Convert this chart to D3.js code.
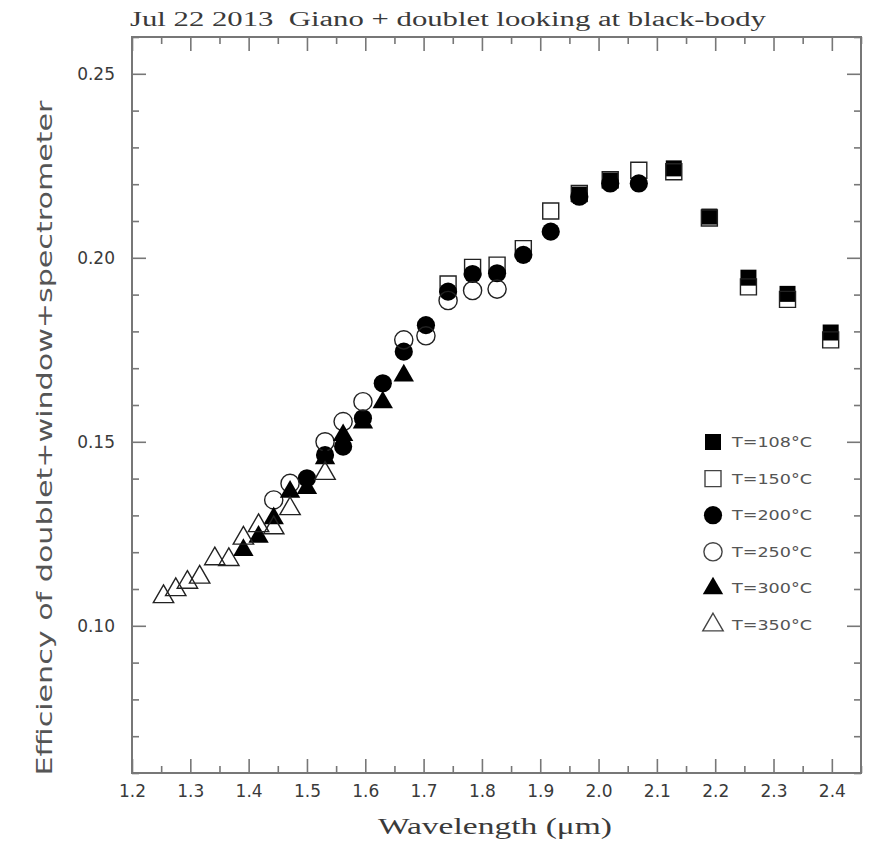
<!DOCTYPE html>
<html>
<head>
<meta charset="utf-8">
<script src="https://cdn.jsdelivr.net/npm/d3@7"></script>
<style>
  body { margin: 0; background: #fff; }
  svg { display: block; }
</style>
</head>
<body>
<div id="chart"></div>
<script>
// echelle order centres (um)
const wavelengths = [1.254, 1.275, 1.295, 1.316, 1.342, 1.366, 1.391, 1.417, 1.443, 1.471,
    1.500, 1.531, 1.562, 1.596, 1.630, 1.666, 1.704, 1.742, 1.784, 1.826,
    1.871, 1.918, 1.967, 2.020, 2.069, 2.129, 2.190, 2.257, 2.324, 2.398];

const _ = null;
const eff108 = [_, _, _, _, _, _, _, _, _, _,
    _, _, _, _, _, _, _, _, _, _,
    _, _, 0.2172, 0.2210, _, 0.2243, 0.2112, 0.1946, 0.1902, 0.1797];
const eff150 = [_, _, _, _, _, _, _, _, _, _,
    _, _, _, _, _, _, _, 0.1929, 0.1974, 0.1980,
    0.2025, 0.2127, 0.2175, 0.2212, 0.2238, 0.2234, 0.2108, 0.1921, 0.1887, 0.1777];
const eff200 = [_, _, _, _, _, _, _, _, _, _,
    0.1401, 0.1464, 0.1487, 0.1564, 0.1659, 0.1745, 0.1817, 0.1908, 0.1956, 0.1958,
    0.2008, 0.2071, 0.2166, 0.2202, 0.2202, _, _, _, _, _];
const eff250 = [_, _, _, _, _, _, _, _, 0.1342, 0.1387,
    _, 0.1500, 0.1555, 0.1609, _, 0.1777, 0.1788, 0.1884, 0.1911, 0.1915,
    _, _, _, _, _, _, _, _, _, _];
const eff300 = [_, _, _, _, _, _, 0.1206, 0.1242, 0.1292, 0.1364,
    0.1374, 0.1455, 0.1518, 0.1552, 0.1607, 0.1680, _, _, _, _,
    _, _, _, _, _, _, _, _, _, _];
const eff350 = [0.1079, 0.1098, 0.1118, 0.1132, 0.1182, 0.1180, 0.1238, 0.1272, 0.1266, 0.1318,
    _, 0.1414, _, _, _, _, _, _, _, _,
    _, _, _, _, _, _, _, _, _, _];

const seriesLabels = ['T=108°C', 'T=150°C', 'T=200°C', 'T=250°C', 'T=300°C', 'T=350°C'];
const seriesValues = [eff108, eff150, eff200, eff250, eff300, eff350];

const xMajor = [1.2, 1.3, 1.4, 1.5, 1.6, 1.7, 1.8, 1.9, 2.0, 2.1, 2.2, 2.3, 2.4];
const yMajor = [0.10, 0.15, 0.20, 0.25];

const titleText = 'Jul 22 2013  Giano + doublet looking at black-body';

const W = 875, H = 842;
const frame = {left: 132, right: 861, top: 37, bottom: 773};
const axisColor = '#777';
const textColor = '#3a3a3a';

const svg = d3.select('#chart')
    .append('svg')
    .attr('width', W)
    .attr('height', H);

const x = d3.scaleLinear().domain([1.2, 2.45]).range([frame.left, frame.right]);
const y = d3.scaleLinear().domain([0.06, 0.26]).range([frame.bottom, frame.top]);

// marker look per series: symbol type and filled or open
const styles = [
    {type: d3.symbolSquare, size: 256, filled: true},
    {type: d3.symbolSquare, size: 256, filled: false},
    {type: d3.symbolCircle, size: 260, filled: true},
    {type: d3.symbolCircle, size: 260, filled: false},
    {type: d3.symbolTriangle, size: 180, filled: true},
    {type: d3.symbolTriangle, size: 180, filled: false}
];

function styleAxis(g) {
    g.select('.domain').remove();
    g.selectAll('.tick line').attr('stroke', axisColor).attr('stroke-width', 1.6);
    g.selectAll('.tick text')
        .attr('fill', textColor)
        .style('font-family', '"DejaVu Sans", sans-serif')
        .style('font-size', '17px');
}

const xMinor = x.ticks(25).filter(v => !xMajor.some(m => Math.abs(m - v) < 1e-6));
const yMinor = y.ticks(20).filter(v => !yMajor.some(m => Math.abs(m - v) < 1e-6));

// bottom
svg.append('g')
    .attr('transform', `translate(0,${frame.bottom})`)
    .call(d3.axisBottom(x).tickValues(xMajor).tickSize(-14).tickPadding(12).tickFormat(d3.format('.1f')))
    .call(styleAxis);
svg.append('g')
    .attr('transform', `translate(0,${frame.bottom})`)
    .call(d3.axisBottom(x).tickValues(xMinor).tickSize(-7).tickFormat(''))
    .call(styleAxis);
// top
svg.append('g')
    .attr('transform', `translate(0,${frame.top})`)
    .call(d3.axisTop(x).tickValues(xMajor).tickSize(-14).tickFormat(''))
    .call(styleAxis);
svg.append('g')
    .attr('transform', `translate(0,${frame.top})`)
    .call(d3.axisTop(x).tickValues(xMinor).tickSize(-7).tickFormat(''))
    .call(styleAxis);
// left
svg.append('g')
    .attr('transform', `translate(${frame.left},0)`)
    .call(d3.axisLeft(y).tickValues(yMajor).tickSize(-14).tickPadding(17).tickFormat(d3.format('.2f')))
    .call(styleAxis);
svg.append('g')
    .attr('transform', `translate(${frame.left},0)`)
    .call(d3.axisLeft(y).tickValues(yMinor).tickSize(-7).tickFormat(''))
    .call(styleAxis);
// right
svg.append('g')
    .attr('transform', `translate(${frame.right},0)`)
    .call(d3.axisRight(y).tickValues(yMajor).tickSize(-14).tickFormat(''))
    .call(styleAxis);
svg.append('g')
    .attr('transform', `translate(${frame.right},0)`)
    .call(d3.axisRight(y).tickValues(yMinor).tickSize(-7).tickFormat(''))
    .call(styleAxis);

svg.append('rect')
    .attr('x', frame.left)
    .attr('y', frame.top)
    .attr('width', frame.right - frame.left)
    .attr('height', frame.bottom - frame.top)
    .attr('fill', 'none')
    .attr('stroke', axisColor)
    .attr('stroke-width', 2);

// points, drawn in series order like the original
seriesValues.forEach((vals, i) => {
    const st = styles[i];
    const pts = wavelengths
        .map((w, j) => ({w: w, v: vals[j]}))
        .filter(d => d.v !== null);
    svg.append('g')
        .selectAll('path')
        .data(pts)
        .join('path')
        .attr('transform', d => `translate(${x(d.w)},${y(d.v)})`)
        .attr('d', d3.symbol().type(st.type).size(st.size))
        .attr('fill', st.filled ? '#000' : 'none')
        .attr('stroke', st.filled ? 'none' : '#222')
        .attr('stroke-width', 1.4);
});

// legend
const legend = svg.append('g');
const legendY = d3.scalePoint().domain(seriesLabels).range([442, 625]);
seriesLabels.forEach((lab, i) => {
    const st = styles[i];
    legend.append('path')
        .attr('transform', `translate(713,${legendY(lab)})`)
        .attr('d', d3.symbol().type(st.type).size(st.size))
        .attr('fill', st.filled ? '#000' : 'none')
        .attr('stroke', st.filled ? 'none' : '#444')
        .attr('stroke-width', 1.4);
    legend.append('text')
        .attr('x', 732)
        .attr('y', legendY(lab) + 5)
        .attr('fill', '#555')
        .attr('textLength', 80)
        .attr('lengthAdjust', 'spacingAndGlyphs')
        .style('font-family', '"DejaVu Sans", sans-serif')
        .style('font-size', '14px')
        .text(lab);
});

// title and axis labels
svg.append('text')
    .attr('x', 130)
    .attr('y', 26)
    .attr('fill', textColor)
    .attr('textLength', 636)
    .attr('lengthAdjust', 'spacingAndGlyphs')
    .style('white-space', 'pre')
    .style('font-family', '"Liberation Serif", serif')
    .style('font-size', '20px')
    .text(titleText);

svg.append('text')
    .attr('x', 495)
    .attr('y', 834)
    .attr('text-anchor', 'middle')
    .attr('fill', textColor)
    .attr('textLength', 234)
    .attr('lengthAdjust', 'spacingAndGlyphs')
    .style('font-family', '"Liberation Serif", serif')
    .style('font-size', '23px')
    .text('Wavelength (μm)');

svg.append('text')
    .attr('transform', 'translate(52,438) rotate(-90)')
    .attr('text-anchor', 'middle')
    .attr('fill', '#555')
    .attr('textLength', 675)
    .attr('lengthAdjust', 'spacingAndGlyphs')
    .style('font-family', '"DejaVu Sans", sans-serif')
    .style('font-size', '21px')
    .text('Efficiency of doublet+window+spectrometer');
</script>
</body>
</html>
